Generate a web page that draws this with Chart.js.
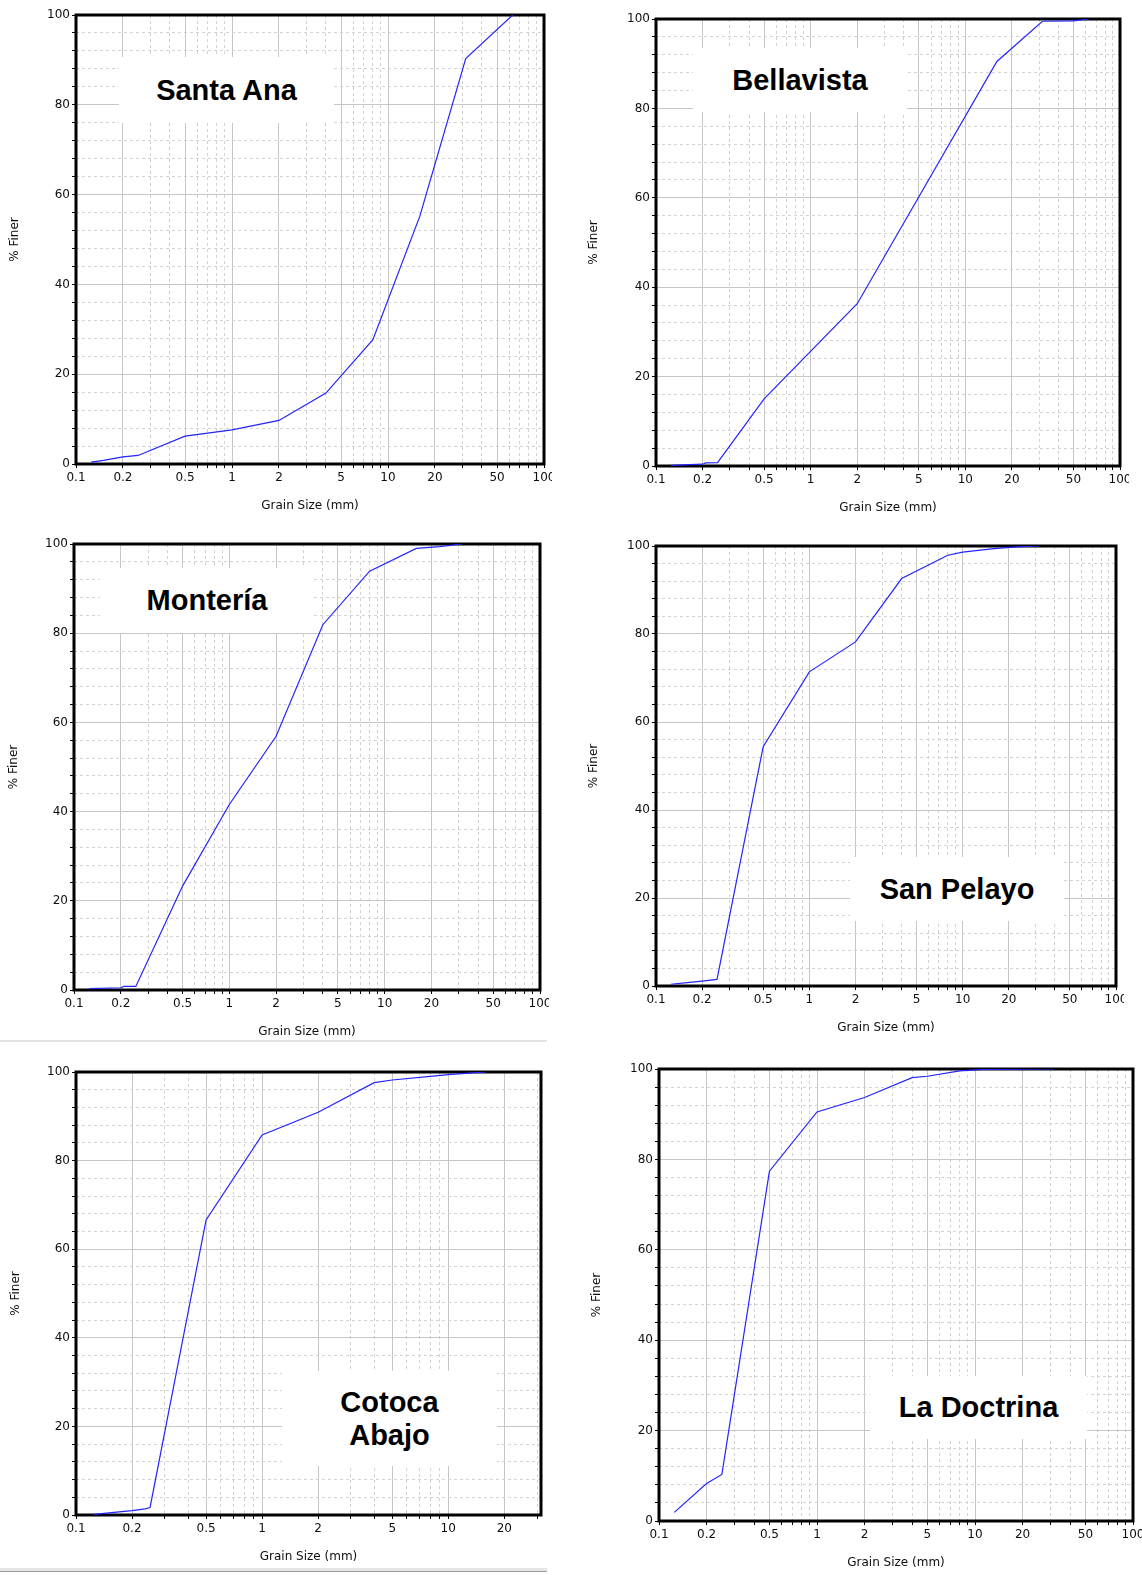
<!DOCTYPE html>
<html>
<head>
<meta charset="utf-8">
<title>Grain size distribution</title>
<script src="https://cdn.jsdelivr.net/npm/chart.js@4.4.1/dist/chart.umd.min.js"></script>
<style>
    body { margin: 0; background: #fff; width: 1142px; height: 1575px; position: relative; overflow: hidden; }
    .panel { position: absolute; overflow: hidden; }
    .panel canvas { position: absolute; left: 0; top: 0; }
    .tag {
        position: absolute; background: #fff; color: #000;
        display: flex; align-items: center; justify-content: center; text-align: center;
        font-family: "Liberation Sans", Arial, sans-serif; font-weight: bold; font-size: 29px; line-height: 33px;
    }
    .rule { position: absolute; left: 0; width: 547px; }
</style>
</head>
<body>

<script>
// ---------------------------------------------------------------------------
// Data: sieve size (mm) and cumulative % finer for each site
// ---------------------------------------------------------------------------
const GRID_SIZES = [0.1, 0.2, 0.3, 0.4, 0.5, 0.6, 0.7, 0.8, 0.9,
                    1, 2, 3, 4, 5, 6, 7, 8, 9,
                    10, 20, 30, 40, 50, 60, 70, 80, 90, 100];
const LABELED_SIZES = [0.1, 0.2, 0.5, 1, 2, 5, 10, 20, 50, 100];
const FINER_TICKS = [0, 4, 8, 12, 16, 20, 24, 28, 32, 36, 40, 44, 48, 52, 56,
                     60, 64, 68, 72, 76, 80, 84, 88, 92, 96, 100];

const santaAnaSize  = [0.125, 0.15, 0.2, 0.25, 0.5, 1, 2, 4, 8, 16, 31.5, 63];
const santaAnaFiner = [0.4, 0.8, 1.6, 1.9, 6.2, 7.6, 9.7, 15.8, 27.7, 55.2, 90.3, 100];

const bellavistaSize  = [0.125, 0.2, 0.21, 0.25, 0.5, 2, 16, 31.5, 50, 63];
const bellavistaFiner = [0.15, 0.4, 0.7, 0.75, 15.0, 36.3, 90.5, 99.5, 99.6, 100];

const monteriaSize  = [0.125, 0.2, 0.21, 0.25, 0.5, 1, 2, 4, 8, 16, 22.6, 31.5];
const monteriaFiner = [0.3, 0.5, 0.8, 0.8, 23.3, 41.6, 56.9, 81.9, 93.9, 99.0, 99.4, 100];

const sanPelayoSize  = [0.125, 0.16, 0.2, 0.25, 0.5, 1, 2, 4, 8, 10, 16, 22.6, 31.5];
const sanPelayoFiner = [0.4, 0.75, 1.1, 1.5, 54.4, 71.4, 78.2, 92.6, 97.9, 98.6, 99.4, 99.8, 100];

const cotocaSize  = [0.125, 0.16, 0.2, 0.235, 0.25, 0.5, 1, 2, 4, 5, 8, 10, 13.4, 16];
const cotocaFiner = [0.15, 0.6, 1.0, 1.4, 1.7, 66.6, 85.8, 90.9, 97.6, 98.2, 99.0, 99.4, 99.8, 100];

const doctrinaSize  = [0.125, 0.2, 0.25, 0.5, 1, 2, 4, 5, 8, 11.3, 31.5];
const doctrinaFiner = [1.9, 8.3, 10.3, 77.4, 90.5, 93.7, 98.1, 98.4, 99.6, 99.9, 100];

// ---------------------------------------------------------------------------
// Panel placement on the page (plot rectangle in page pixels)
// ---------------------------------------------------------------------------
const PANELS = [
    { name: "Santa Ana",    size: santaAnaSize,   finer: santaAnaFiner,   xMax: 100,
      ox: 0,   L: 76,  R: 544,  T: 15,   B: 464,  yTitleX: 15,  clipR: 552,
      tag: { x: 119, y: 57,   w: 215, h: 66 } },
    { name: "Bellavista",   size: bellavistaSize, finer: bellavistaFiner, xMax: 100,
      ox: 580, L: 656, R: 1120, T: 19,   B: 466,  yTitleX: 594, clipR: 1129,
      tag: { x: 693, y: 48,   w: 214, h: 64 } },
    { name: "Montería",     size: monteriaSize,   finer: monteriaFiner,   xMax: 100,
      ox: 0,   L: 74,  R: 540,  T: 544,  B: 990,  yTitleX: 14,  clipR: 549,
      tag: { x: 100, y: 568,  w: 214, h: 65 } },
    { name: "San Pelayo",   size: sanPelayoSize,  finer: sanPelayoFiner,  xMax: 100,
      ox: 580, L: 656, R: 1116, T: 546,  B: 986,  yTitleX: 594, clipR: 1124,
      tag: { x: 850, y: 857,  w: 214, h: 64 } },
    { name: "Cotoca<br>Abajo", size: cotocaSize,  finer: cotocaFiner,     xMax: 31.5,
      ox: 0,   L: 76,  R: 541,  T: 1072, B: 1515, yTitleX: 16,  clipR: 552,
      tag: { x: 282, y: 1371, w: 215, h: 95 } },
    { name: "La Doctrina",  size: doctrinaSize,   finer: doctrinaFiner,   xMax: 100,
      ox: 580, L: 659, R: 1133, T: 1069, B: 1521, yTitleX: 597, clipR: 1142,
      tag: { x: 870, y: 1376, w: 217, h: 63 } },
];

const TEXT_COLOR = "#0e0e0e";
const MAJOR_GRID = "#c6c6c6";
const MINOR_GRID = "#d2d2d2";
const AXIS_FONT = { family: "'DejaVu Sans', sans-serif", size: 12 };
const TOP_PAD = 10;
const X_AXIS_H = 50;
const X_TITLE_OFFSET = 42;   // plot bottom -> centre of "Grain Size (mm)"

// thick black frame round the plot area, under the curve
const framePlugin = {
    id: "frame",
    beforeDatasetsDraw(chart) {
        const { ctx, chartArea: a } = chart;
        ctx.save();
        ctx.strokeStyle = "#000";
        ctx.lineWidth = 3;
        ctx.strokeRect(a.left, a.top, a.right - a.left, a.bottom - a.top);
        ctx.restore();
    }
};

function isLabeledSize(v) {
    return LABELED_SIZES.some((s) => Math.abs(s - v) < 1e-9);
}

function makePanel(p) {
    const wrap = document.createElement("div");
    wrap.className = "panel";
    const height = p.B - p.T + TOP_PAD + X_AXIS_H;
    wrap.style.left = p.ox + "px";
    wrap.style.top = (p.T - TOP_PAD) + "px";
    wrap.style.width = (p.clipR - p.ox) + "px";
    wrap.style.height = height + "px";

    const canvas = document.createElement("canvas");
    canvas.width = p.R - p.ox + 30;
    canvas.height = height;
    wrap.appendChild(canvas);
    document.body.appendChild(wrap);

    const tag = document.createElement("div");
    tag.className = "tag";
    tag.innerHTML = p.name;
    tag.style.left = p.tag.x + "px";
    tag.style.top = p.tag.y + "px";
    tag.style.width = p.tag.w + "px";
    tag.style.height = p.tag.h + "px";
    document.body.appendChild(tag);

    const lineHalf = AXIS_FONT.size * 1.2 / 2;

    new Chart(canvas.getContext("2d"), {
        type: "line",
        data: {
            datasets: [{
                data: p.size.map((s, i) => ({ x: s, y: p.finer[i] })),
                borderColor: "#2424ff",
                borderWidth: 1.2,
                pointRadius: 0,
                tension: 0,
                fill: false,
            }],
        },
        options: {
            responsive: false,
            animation: false,
            layout: { padding: { left: 0, top: TOP_PAD, right: 30, bottom: 0 } },
            plugins: { legend: { display: false }, tooltip: { enabled: false } },
            scales: {
                x: {
                    type: "logarithmic",
                    min: 0.1,
                    max: p.xMax,
                    afterBuildTicks: (s) => {
                        s.ticks = GRID_SIZES.filter((v) => v >= 0.1 && v <= p.xMax).map((v) => ({ value: v }));
                    },
                    afterFit: (s) => { s.height = X_AXIS_H; },
                    ticks: {
                        autoSkip: false, maxRotation: 0, minRotation: 0, padding: 3,
                        color: TEXT_COLOR, font: AXIS_FONT,
                        callback: (v) => (isLabeledSize(v) ? String(v) : ""),
                    },
                    grid: {
                        color: (ctx) => (ctx.tick && isLabeledSize(ctx.tick.value) ? MAJOR_GRID : MINOR_GRID),
                        lineWidth: 1, tickColor: "#000", tickLength: 4, tickWidth: 1, tickBorderDash: [],
                    },
                    border: {
                        display: false,
                        dash: (ctx) => (ctx.tick && !isLabeledSize(ctx.tick.value) ? [3, 3] : []),
                    },
                    title: {
                        display: true, text: "Grain Size (mm)", color: TEXT_COLOR, font: AXIS_FONT,
                        padding: { top: 0, bottom: X_AXIS_H - X_TITLE_OFFSET - lineHalf },
                    },
                },
                y: {
                    min: 0,
                    max: 100,
                    afterBuildTicks: (s) => { s.ticks = FINER_TICKS.map((v) => ({ value: v })); },
                    afterFit: (s) => { s.width = p.L - p.ox; },
                    ticks: {
                        autoSkip: false, padding: 2, color: TEXT_COLOR, font: AXIS_FONT,
                        callback: (v) => (v % 20 === 0 ? String(v) : ""),
                    },
                    grid: {
                        color: (ctx) => (ctx.tick && ctx.tick.value % 20 === 0 ? MAJOR_GRID : MINOR_GRID),
                        lineWidth: 1, tickColor: "#000", tickLength: 4, tickWidth: 1, tickBorderDash: [],
                    },
                    border: {
                        display: false,
                        dash: (ctx) => (ctx.tick && ctx.tick.value % 20 !== 0 ? [3, 3] : []),
                    },
                    title: {
                        display: true, text: "% Finer", color: TEXT_COLOR, font: AXIS_FONT,
                        padding: { top: p.yTitleX - p.ox - lineHalf, bottom: 0 },
                    },
                },
            },
        },
        plugins: [framePlugin],
    });
}

PANELS.forEach(makePanel);

// faint separator rules from the original composite
[{ y: 1040, h: 2, c: "#e4e4e4" }, { y: 1568, h: 3, c: "#e6e6e6" }, { y: 1571, h: 1, c: "#9a9a9a" }]
    .forEach((r) => {
        const d = document.createElement("div");
        d.className = "rule";
        d.style.top = r.y + "px";
        d.style.height = r.h + "px";
        d.style.background = r.c;
        document.body.appendChild(d);
    });
</script>
</body>
</html>
